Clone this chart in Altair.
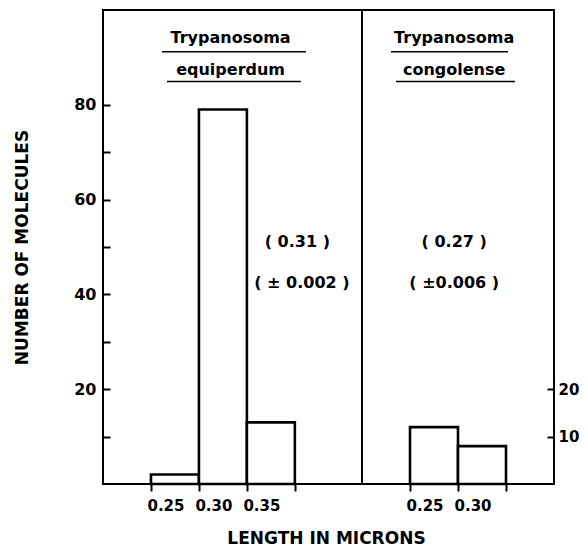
import altair as alt
import pandas as pd

# ---------------- data ----------------
eq_edges = [0.25, 0.30, 0.35, 0.40]
eq_counts = [2, 79, 13]
co_edges = [0.25, 0.30, 0.35]
co_counts = [12, 8]

eq_name = ["Trypanosoma", "equiperdum"]
co_name = ["Trypanosoma", "congolense"]
eq_stats = ["( 0.31 )", "( ± 0.002 )"]
co_stats = ["( 0.27 )", "( ±0.006 )"]

left_ticks = [10, 20, 30, 40, 50, 60, 70, 80]
right_ticks = [10, 20]

y_title = "NUMBER OF MOLECULES"
x_title = "LENGTH IN MICRONS"

# annotation placement (data units)
name_y = [93.1, 86.2]
underline_y = [91.2, 84.9]
stats_y = [51.0, 42.5]
eq_name_x = 0.333
co_name_x = 0.296
eq_stats_x = [0.4026, 0.4073]
co_stats_x = [0.296, 0.296]
eq_ul = [(0.2615, 0.4115), (0.2667, 0.4063)]
co_ul = [(0.2302, 0.3521), (0.2354, 0.3594)]

FONT = "DejaVu Sans"


def panel(edges, counts, names, name_x, stats, stats_x, ul, xdomain, width, xaxis, yaxis):
    xs = alt.Scale(domain=xdomain, nice=False, zero=False)
    ys = alt.Scale(domain=[0, 100], nice=False)
    bars_df = pd.DataFrame({"x0": edges[:-1], "x1": edges[1:], "n": counts, "z": [0] * len(counts)})
    bars = alt.Chart(bars_df).mark_rect(fill="white", stroke="black", strokeWidth=2.6).encode(
        x=alt.X("x0:Q", scale=xs, axis=xaxis),
        x2="x1:Q",
        y=alt.Y("n:Q", scale=ys, axis=yaxis),
        y2="z:Q",
    )
    names_df = pd.DataFrame({"x": [name_x] * len(names), "y": name_y, "t": names})
    name_text = alt.Chart(names_df).mark_text(
        font=FONT, fontWeight="bold", fontSize=16, baseline="alphabetic", color="black"
    ).encode(x=alt.X("x:Q", scale=xs), y=alt.Y("y:Q", scale=ys), text="t:N")
    ul_df = pd.DataFrame({"x": [a for a, b in ul], "x2": [b for a, b in ul], "y": underline_y})
    rules = alt.Chart(ul_df).mark_rule(color="black", strokeWidth=1.6).encode(
        x=alt.X("x:Q", scale=xs), x2="x2:Q", y=alt.Y("y:Q", scale=ys)
    )
    stats_df = pd.DataFrame({"x": stats_x, "y": stats_y, "t": stats})
    stats_text = alt.Chart(stats_df).mark_text(
        font=FONT, fontWeight="bold", fontSize=16, baseline="middle", color="black"
    ).encode(x=alt.X("x:Q", scale=xs), y=alt.Y("y:Q", scale=ys), text="t:N")
    return alt.layer(bars, rules, name_text, stats_text).properties(width=width, height=474)


common_x = dict(
    domain=False, tickSize=7, tickWidth=2, tickColor="black", labelPadding=7,
    labelFont=FONT, labelFontSize=15, labelFontWeight="bold", labelColor="black",
    labelAlign="left", labelOffset=-4, grid=False,
)

left_x_axis = alt.Axis(
    values=eq_edges,
    labelExpr="datum.value > 0.375 ? '' : format(datum.value, '.2f')",
    title=x_title, titleX=223, titleY=46, titleAlign="center", titleBaseline="top",
    titleFont=FONT, titleFontSize=17, titleFontWeight="bold", titleColor="black",
    **common_x,
)
right_x_axis = alt.Axis(
    values=co_edges,
    labelExpr="datum.value > 0.325 ? '' : format(datum.value, '.2f')",
    title=None,
    **common_x,
)

left_y_axis = alt.Axis(
    values=left_ticks,
    labelExpr="datum.value % 20 === 0 ? datum.label : ''",
    offset=-7, domain=False, tickSize=7, tickWidth=2, tickColor="black",
    labelPadding=7, labelFont=FONT, labelFontSize=16, labelFontWeight="bold", labelColor="black",
    title=y_title, titleFont=FONT, titleFontSize=17, titleFontWeight="bold", titleColor="black",
    titlePadding=42, grid=False,
)
right_y_axis = alt.Axis(
    orient="right", values=right_ticks,
    offset=-7, domain=False, tickSize=7, tickWidth=2, tickColor="black",
    labelPadding=4, labelFont=FONT, labelFontSize=15, labelFontWeight="bold", labelColor="black",
    title=None, grid=False,
)

left = panel(eq_edges, eq_counts, eq_name, eq_name_x, eq_stats, eq_stats_x, eq_ul,
             [0.2, 0.47], 259, left_x_axis, left_y_axis)
right = panel(co_edges, co_counts, co_name, co_name_x, co_stats, co_stats_x, co_ul,
              [0.2, 0.4], 192, right_x_axis, right_y_axis)

chart = alt.hconcat(left, right, spacing=0, bounds="flush").properties(
    padding={"left": 4, "top": 1, "right": 0, "bottom": 0}
).configure_view(stroke="black", strokeWidth=2).configure_concat(spacing=0)

chart.save("out.html", embed_options={"renderer": "svg", "actions": False})
